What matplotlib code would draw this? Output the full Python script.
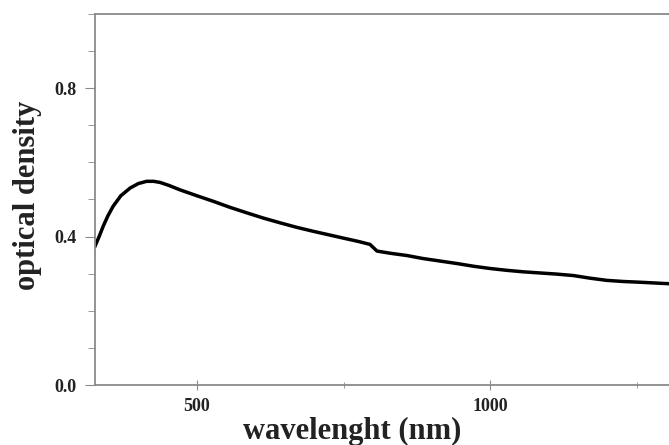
import numpy as np
import matplotlib.pyplot as plt
from matplotlib.ticker import MultipleLocator

# data
wavelength = [326, 333, 340, 348, 357, 370, 386, 400, 414, 426, 437, 452, 471,
              500, 528, 556, 585, 613, 642, 670, 699, 727, 755, 775, 795,
              801, 807, 830, 858, 885, 915, 945, 972, 1000, 1029, 1057, 1085,
              1113, 1142, 1170, 1199, 1227, 1256, 1280, 1305]
density = [0.374, 0.400, 0.428, 0.456, 0.482, 0.510, 0.531, 0.543, 0.549,
           0.549, 0.546, 0.538, 0.526, 0.510, 0.495, 0.479, 0.464, 0.450,
           0.437, 0.425, 0.414, 0.404, 0.394, 0.387, 0.379, 0.370, 0.361,
           0.355, 0.349, 0.341, 0.334, 0.327, 0.320, 0.314, 0.309, 0.305,
           0.302, 0.299, 0.295, 0.288, 0.282, 0.279, 0.277, 0.275, 0.273]

plt.rcParams['font.family'] = ['Liberation Serif', 'DejaVu Serif']

fig = plt.figure(figsize=(6.69, 4.45), dpi=100)
ax = fig.add_axes([95 / 669, 1 - 385 / 445, 1 - 95 / 669, (385 - 14) / 445])

ax.plot(wavelength, density, color='black', linewidth=2.5)

ax.set_xlim(326, 1305)
ax.set_ylim(0, 1.0)
ax.xaxis.set_major_locator(MultipleLocator(500))
ax.xaxis.set_minor_locator(MultipleLocator(250))
ax.yaxis.set_major_locator(MultipleLocator(0.4))
ax.yaxis.set_minor_locator(MultipleLocator(0.1))
ax.yaxis.set_major_formatter(plt.FormatStrFormatter('%.1f'))

for s in ax.spines.values():
    s.set_color('#8a8a8a')
    s.set_linewidth(1.3)
ax.spines['right'].set_visible(False)

ax.tick_params(axis='both', which='both', colors='#8a8a8a', labelcolor='#222222')
ax.tick_params(axis='y', which='major', direction='out', length=7, labelsize=13, pad=6)
ax.tick_params(axis='y', which='minor', direction='out', length=5)
ax.tick_params(axis='x', which='major', direction='inout', length=7, labelsize=13, pad=6)
ax.tick_params(axis='x', which='minor', direction='inout', length=4)
for lab in ax.get_xticklabels() + ax.get_yticklabels():
    lab.set_fontweight('bold')

ax.set_xlabel('wavelenght (nm)', fontsize=22, fontweight='bold', color='#222222')
ax.set_ylabel('optical density', fontsize=22, fontweight='bold', color='#222222')
ax.xaxis.set_label_coords((352 - 95) / 574, -0.085)
ax.yaxis.set_label_coords(-0.092, 0.51)

fig.savefig('out.png', dpi=100)
